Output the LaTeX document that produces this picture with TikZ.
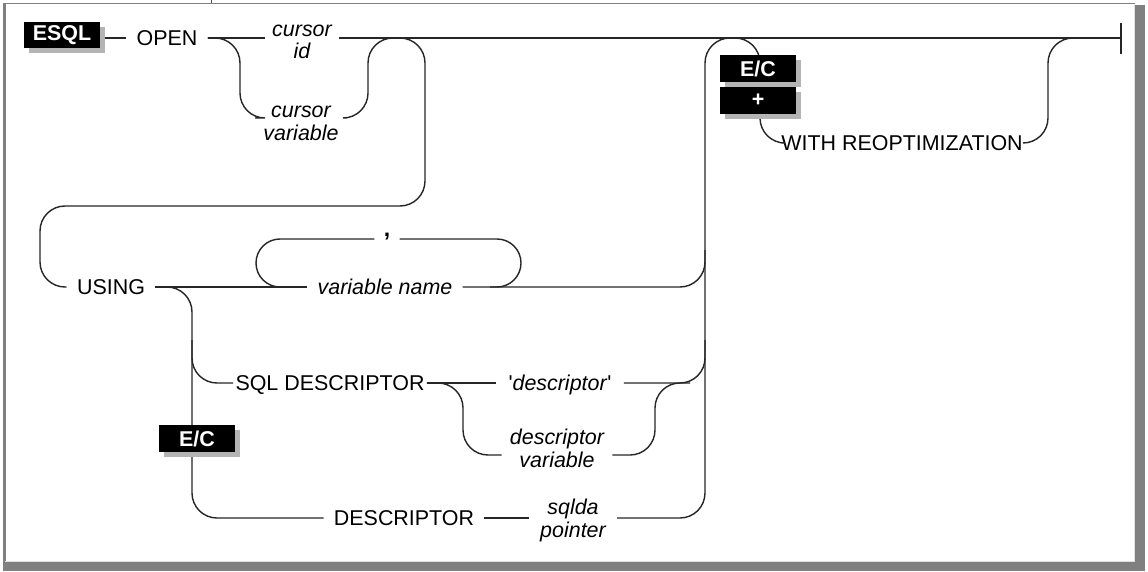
\documentclass[tikz,border=0pt]{standalone}
\usepackage{fontspec}
\setmainfont{Liberation Sans}
\usetikzlibrary{shadows}
\tikzset{
  rail/.style={line width=0.8pt, black!85, rounded corners=0.5cm},
  kw/.style={font=\fontsize{12.2}{13}\selectfont, inner xsep=0.2cm, inner ysep=0pt, text height=8.4pt, text depth=0pt},
  kwi/.style={kw, font=\fontsize{12.2}{13}\selectfont\itshape},
  var/.style={font=\fontsize{12.2}{12.6}\selectfont\itshape, align=center, inner xsep=0.16cm, inner ysep=0pt, anchor=base},
  flag/.style={fill=black, text=white, font=\fontsize{12.2}{13}\selectfont\bfseries, minimum width=1.52cm, minimum height=0.54cm, inner sep=0pt,
    general shadow={fill=gray!59, shadow xshift=0.1cm, shadow yshift=-0.1cm}},
}

\begin{document}
\begin{tikzpicture}[x=0.02cm, y=-0.02cm]
    \useasboundingbox (0,0) rectangle (1148,571);
    % Frame
    \fill[white] (0,0) rectangle (1148,571);
    \draw[gray, line width=1.1pt] (3,3.5) -- (1135,3.5);
    \draw[gray, line width=1.3pt] (4.5,3) -- (4.5,562);
    \fill[gray] (1135,5) rectangle (1145,571);
    \fill[gray] (3,562) rectangle (1145,571);
    \draw[gray!25, line width=0.5pt] (5,561.5) -- (1134.5,561.5) -- (1134.5,5);
    \draw[gray!60!black, line width=0.5pt] (211,0) -- (211,3);
    % Keywords and variables (two-line ones sit on their last baseline)
    \node[kw] (open) at (167,38) {OPEN};
    \node[var, inner xsep=0.14cm] (cid) at (302,59) {cursor\\id};
    \node[var] (cvar) at (301,140) {cursor\\variable};
    \node[kw, inner xsep=0pt] (wro) at (902,143) {WITH REOPTIMIZATION};
    \node[kw] (using) at (111,287) {USING};
    \node[kwi] (vname) at (385,287) {variable name};
    \node[kw, inner xsep=0.18cm, font=\fontsize{13}{13}\selectfont\bfseries] (comma) at (387,229.5) {,};
    \node[kw, inner xsep=0.04cm] (sqld) at (330,383) {SQL DESCRIPTOR};
    \node[kw, inner xsep=0.24cm] (dq) at (560,383) {\textquotesingle\textit{descriptor}\textquotesingle};
    \node[var] (dvar) at (557,467) {descriptor\\variable};
    \node[kw] (descr) at (404,518) {DESCRIPTOR};
    \node[var, inner xsep=0.22cm] (sqlda) at (573,537) {sqlda\\pointer};
    \coordinate (fin) at (1121,38);
    % Main line
    \draw[rail] (open.west) -- (open.west -| 100,0);
    \draw[rail] (open.east) -- (cid.west |- open.east);
    \draw[rail] (cid.east |- open.east) -- (fin);
    \draw[rail] (1121,23) -- (1121,54);
    % cursor variable
    \draw[rail] (open.east) -- (240,38) -- (240,118) -- (cvar.west |- 0,118);
    \draw[rail] (cvar.east |- 0,118) -- (368,118) -- (368,38) -- (400,38);
    % back round to USING
    \draw[rail] (395,38) -- (425,38) -- (425,206) -- (40,206) -- (40,287) -- (using.west);
    % variable name list
    \draw[rail] (using.east) -- (vname.west);
    \draw[rail] (vname.east) -- (705,287) -- (705,250);
    \draw[rail, rounded corners=0.48cm] (comma.west |- 0,239) -- (256,239) -- (256,287) -- (290,287);
    \draw[rail, rounded corners=0.48cm] (comma.east |- 0,239) -- (521,239) -- (521,287) -- (490,287);
    % descriptors
    \draw[rail] (using.east) -- (192,287) -- (192,518) -- (descr.west);
    \draw[rail] (192,340) -- (192,383) -- (sqld.west);
    \draw[rail] (sqld.east) -- (dq.west);
    \draw[rail] (dq.east) -- (705,383) -- (705,340);
    \draw[rail] (sqld.east) -- (463,383) -- (463,455) -- (dvar.west |- 0,455);
    \draw[rail] (dvar.east |- 0,455) -- (655,455) -- (655,383) -- (690,383);
    \draw[rail] (descr.east) -- (sqlda.west |- descr.east);
    \draw[rail] (sqlda.east |- descr.east) -- (705,518) -- (705,38) -- (745,38);
    % WITH REOPTIMIZATION
    \draw[rail] (725,38) -- (760,38) -- (760,143) -- (wro.west);
    \draw[rail] (wro.east) -- (1048,143) -- (1048,38) -- (1085,38);
    % Flags
    \node[flag] (esql) at (62,35) {ESQL};
    \node[flag] (ec1) at (758,68.5) {E/C};
    \node[flag] (plus) at (758,100.5) {+};
    \node[flag] (ec2) at (197,438.5) {E/C};
\end{tikzpicture}
\end{document}
